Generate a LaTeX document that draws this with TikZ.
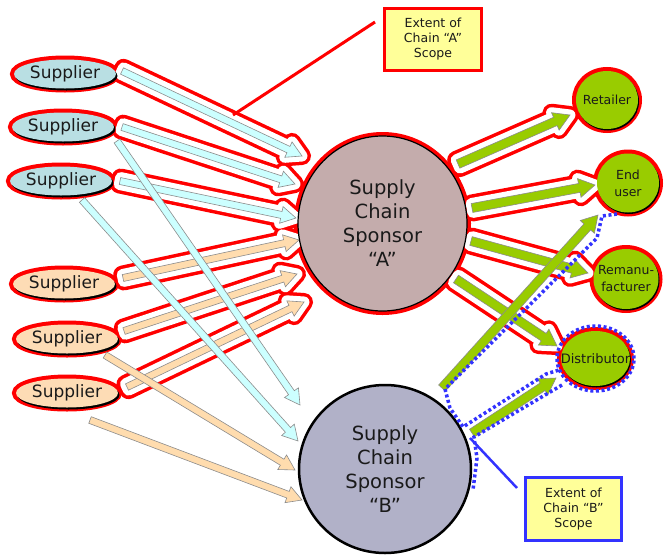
\documentclass[tikz,border=0pt]{standalone}
\usepackage{fontspec}
\setmainfont{DejaVu Sans}
\usetikzlibrary{calc,shapes.geometric,shadows}
\definecolor{supblue}{HTML}{B9DFE3}
\definecolor{suporange}{HTML}{FDDCB5}
\definecolor{arrblue}{HTML}{CCFFFF}
\definecolor{arrorange}{HTML}{FFDCAE}
\definecolor{leaf}{HTML}{99CC00}
\definecolor{sponA}{HTML}{C4ACAC}
\definecolor{sponB}{HTML}{B1B1C8}
\definecolor{callout}{HTML}{FFFF99}
\definecolor{scopeblue}{HTML}{3333FF}
\definecolor{scopered}{HTML}{FF0000}
\definecolor{txt}{HTML}{1A1A1A}
\pgfdeclarelayer{bgl}\pgfdeclarelayer{redl}\pgfdeclarelayer{whitel}\pgfdeclarelayer{arrl}
\pgfsetlayers{bgl,redl,whitel,arrl,main}
% #1 style, #2 tail, #3 tip, #4 half shaft, #5 half head, #6 head length
\newcommand\arrowpath[6]{%
  \coordinate (q) at ($(#3)!#6!(#2)$);
  \path[#1] ($(#2)!#4!90:(#3)$) -- ($(q)!#4!-90:(#2)$) -- ($(q)!#5!-90:(#2)$) -- (#3)
    -- ($(q)!#5!90:(#2)$) -- ($(q)!#4!90:(#2)$) -- ($(#2)!#4!-90:(#3)$) -- cycle;}
% scoped (chain A) arrow: fill colour, tail, tip, half shaft, half head, head length
\newcommand\scopedarrow[6]{%
  \begin{pgfonlayer}{redl}\arrowpath{halored}{#2}{#3}{#4}{#5}{#6}\end{pgfonlayer}
  \begin{pgfonlayer}{whitel}\arrowpath{halowhite}{#2}{#3}{#4}{#5}{#6}\end{pgfonlayer}
  \begin{pgfonlayer}{arrl}\arrowpath{blockarrow,fill=#1}{#2}{#3}{#4}{#5}{#6}\end{pgfonlayer}}
\begin{document}
\begin{tikzpicture}[x=1pt,y=-1pt,
  halored/.style={fill=scopered,draw=scopered,line width=18pt,line join=round},
  halowhite/.style={fill=white,draw=white,line width=11pt,line join=round},
  shapering/.style={fill=scopered,draw=scopered,line width=8pt},
  blockarrow/.style={draw=black!45,line width=0.6pt,line join=miter},
  shade/.style={drop shadow={shadow xshift=1.5pt,shadow yshift=-2pt,fill=black,opacity=1}},
  smallshade/.style={drop shadow={shadow xshift=1pt,shadow yshift=-1.5pt,fill=black,opacity=1}},
  supplier/.style={ellipse,inner sep=0pt,minimum width=102pt,minimum height=29pt,
    font=\fontsize{17}{20}\selectfont,text=txt,shade},
  sponsor/.style={ellipse,inner sep=0pt,draw=black,align=center,
    font=\fontsize{19.5}{24}\selectfont,text=txt},
  leafnode/.style={ellipse,inner sep=0pt,fill=leaf,smallshade},
  leaflabel/.style={align=center,font=\fontsize{12.5}{17}\selectfont,text=txt},
  calloutbox/.style={rectangle,fill=callout,line width=3pt,align=center,
    font=\fontsize{12.5}{15}\selectfont,text=txt,minimum width=97pt,minimum height=62pt},
  dotline/.style={draw=scopeblue,line width=3.5pt,dash pattern=on 3pt off 2.6pt}]
\useasboundingbox (0,0) rectangle (664,555);
\begin{pgfonlayer}{bgl}\fill[white] (0,0) rectangle (664,555);\end{pgfonlayer}

% ---------- nodes ----------
\node[supplier,fill=supblue] (s1) at (65,74) {Supplier};
\node[supplier,fill=supblue] (s2) at (63,127) {Supplier};
\node[supplier,fill=supblue] (s3) at (61,181) {Supplier};
\node[supplier,fill=suporange] (s4) at (64,284) {Supplier};
\node[supplier,fill=suporange] (s5) at (67,339) {Supplier};
\node[supplier,fill=suporange] (s6) at (67,393) {Supplier};
\node[sponsor,fill=sponA,line width=1.2pt,minimum width=169pt,minimum height=175pt] (A) at (382.5,223.5)
  {Supply\\Chain\\Sponsor\\“A”};
\node[sponsor,fill=sponB,line width=2.5pt,minimum width=172pt,minimum height=168pt] (B) at (385,469)
  {Supply\\Chain\\Sponsor\\“B”};
\node[leafnode,minimum width=62pt,minimum height=58pt,label={[leaflabel]center:Retailer}] (ret) at (607,100) {};
\node[leafnode,minimum width=62pt,minimum height=59pt,label={[leaflabel]center:End\\user}] (end) at (628,183) {};
\node[leafnode,minimum width=65pt,minimum height=60pt,label={[leaflabel]center:Remanu-\\facturer}] (rem) at (626,279) {};
\node[leafnode,minimum width=69pt,minimum height=55pt,label={[leaflabel,font=\fontsize{13}{17}\selectfont]center:Distributor}] (dis) at (595.5,358.5) {};
\node[calloutbox,draw=scopered] (ca) at (433,39.5) {Extent of\\Chain “A”\\Scope};
\node[calloutbox,draw=scopeblue,minimum width=96pt,minimum height=63pt] (cb) at (573.5,509) {Extent of\\Chain “B”\\Scope};

% ---------- arrow end points ----------
\coordinate (a1t) at (122,71);  \coordinate (a1h) at (302,156);
\coordinate (a2t) at (122,127); \coordinate (a2h) at (295,184);
\coordinate (a3t) at (120,181); \coordinate (a3h) at (296,218);
\coordinate (a4t) at (123,278); \coordinate (a4h) at (299,240);
\coordinate (a5t) at (124,331); \coordinate (a5h) at (297,274);
\coordinate (a6t) at (127,387); \coordinate (a6h) at (304,302);
\coordinate (g1t) at (458,164); \coordinate (g1h) at (570,115);
\coordinate (g2t) at (472,208); \coordinate (g2h) at (595,185);
\coordinate (g3t) at (471,241); \coordinate (g3h) at (588,273);
\coordinate (g4t) at (456,279); \coordinate (g4h) at (557,346);
\coordinate (b1t) at (117,141); \coordinate (b1h) at (300,405);
\coordinate (b2t) at (82,200);  \coordinate (b2h) at (298,441);
\coordinate (b3t) at (105,355); \coordinate (b3h) at (295,470);
\coordinate (b4t) at (90,420);  \coordinate (b4h) at (302,500);
\coordinate (g5t) at (442,388); \coordinate (g5h) at (598,215);
\coordinate (g6t) at (472,433); \coordinate (g6h) at (556,378);

% ---------- chain A scope: rings round its shapes ----------
\begin{pgfonlayer}{redl}
  \foreach \n/\rx/\ry in {s1/51pt/14.5pt,s2/51pt/14.5pt,s3/51pt/14.5pt,s4/51pt/14.5pt,s5/51pt/14.5pt,s6/51pt/14.5pt,
      A/84.5pt/87.5pt,ret/31pt/29pt,end/31pt/29.5pt,rem/32.5pt/30pt,dis/34.5pt/27.5pt}
    \path[shapering] (\n.center) ellipse [x radius=\rx,y radius=\ry];
\end{pgfonlayer}

% ---------- chain A arrows ----------
\scopedarrow{arrblue}{a1t}{a1h}{3.5pt}{8.5pt}{15pt}
\scopedarrow{arrblue}{a2t}{a2h}{3.5pt}{8.5pt}{15pt}
\scopedarrow{arrblue}{a3t}{a3h}{3.5pt}{8.5pt}{15pt}
\scopedarrow{arrorange}{a4t}{a4h}{3.5pt}{8.5pt}{15pt}
\scopedarrow{arrorange}{a5t}{a5h}{3.5pt}{8.5pt}{15pt}
\scopedarrow{arrorange}{a6t}{a6h}{3.5pt}{8.5pt}{15pt}
\scopedarrow{leaf}{g1t}{g1h}{4.5pt}{9.5pt}{16pt}
\scopedarrow{leaf}{g2t}{g2h}{4.5pt}{9.5pt}{16pt}
\scopedarrow{leaf}{g3t}{g3h}{4.5pt}{9.5pt}{16pt}
\scopedarrow{leaf}{g4t}{g4h}{4.5pt}{9.5pt}{16pt}

% ---------- other arrows ----------
\arrowpath{blockarrow,fill=arrblue}{b1t}{b1h}{3.5pt}{8.5pt}{15pt}
\arrowpath{blockarrow,fill=arrblue}{b2t}{b2h}{3.5pt}{8.5pt}{15pt}
\arrowpath{blockarrow,fill=arrorange}{b3t}{b3h}{3.5pt}{8.5pt}{15pt}
\arrowpath{blockarrow,fill=arrorange}{b4t}{b4h}{3.5pt}{8.5pt}{15pt}
\arrowpath{blockarrow,fill=leaf}{g5t}{g5h}{4.5pt}{9.5pt}{16pt}
\arrowpath{blockarrow,fill=leaf}{g6t}{g6h}{4.5pt}{9.5pt}{16pt}

% ---------- chain B scope (dotted) ----------
\path[dotline] (dis.center) ellipse [x radius=38.5pt,y radius=32.5pt];
\path[dotline] (617,214) -- (602,216) -- (597,238) -- (445,389) -- (450,408) -- (463,427)
  -- (546,374) -- (559,370);
\path[dotline] (562,385) -- (474,437) -- (477,458) -- (473,490);

% ---------- callout pointers ----------
\coordinate (pa1) at (375,22); \coordinate (pa2) at (233,115);
\draw[scopered,line width=3pt] (pa1) -- (pa2);
\coordinate (pb1) at (470,438); \coordinate (pb2) at (517,488);
\draw[scopeblue,line width=2.5pt] (pb1) -- (pb2);
\end{tikzpicture}
\end{document}
